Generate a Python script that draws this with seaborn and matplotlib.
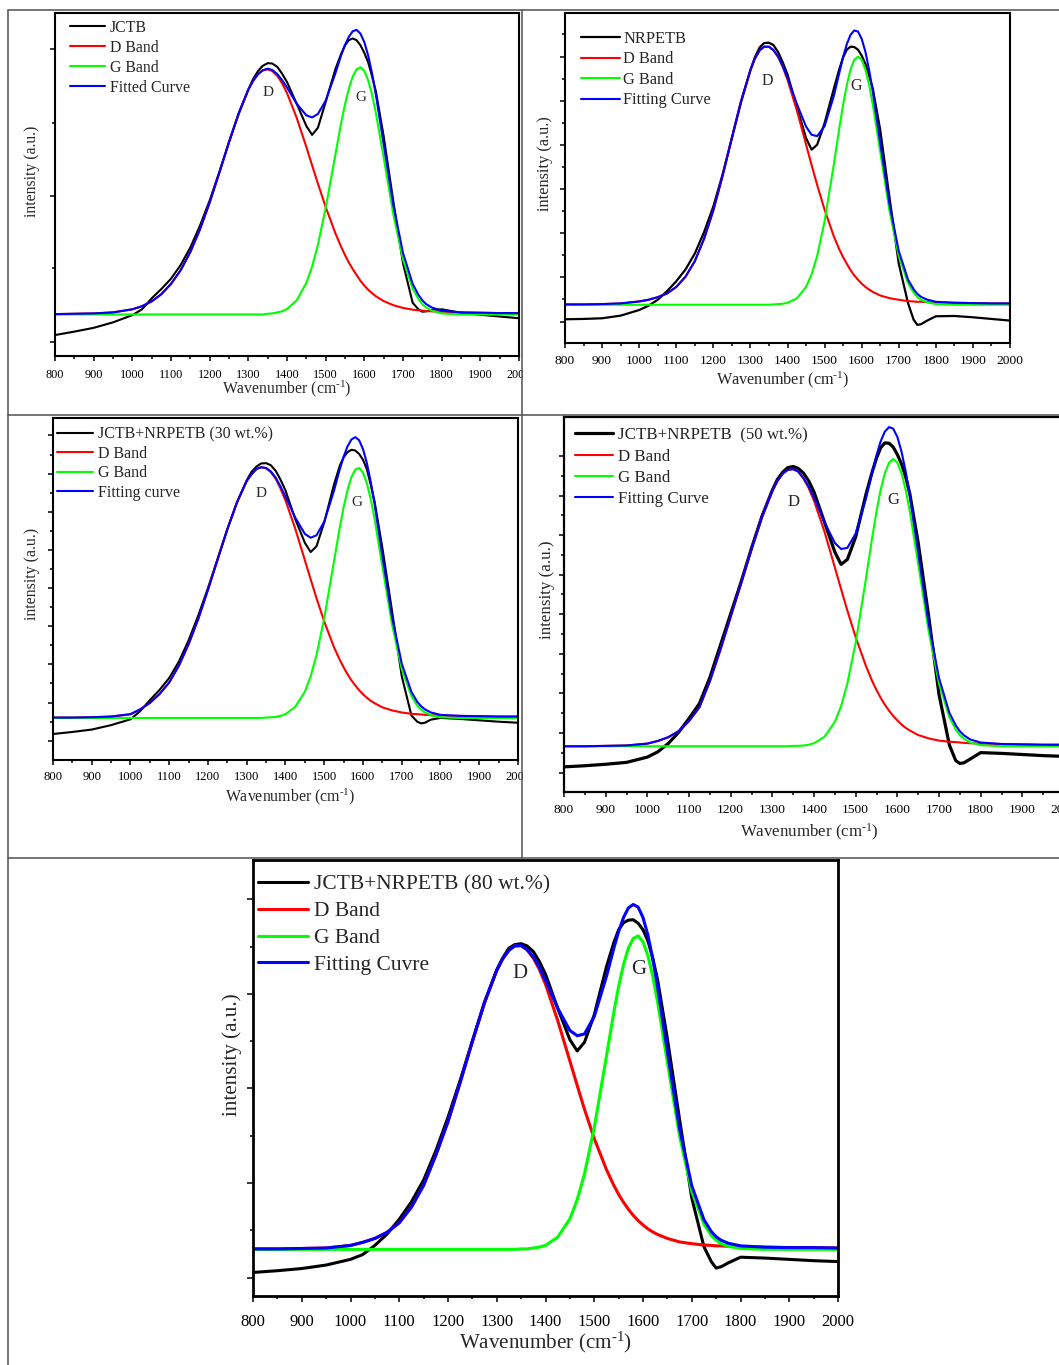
import numpy as np
import pandas as pd
import seaborn as sns
import matplotlib.pyplot as plt
from matplotlib.lines import Line2D
from matplotlib.patches import Rectangle
from matplotlib.ticker import MultipleLocator

# Raman shift grid shared by all curves (cm-1)
WN = [800, 850, 900, 950, 1000, 1025, 1050, 1075, 1100, 1125, 1150, 1175,
      1200, 1225, 1250, 1275, 1300, 1312, 1325, 1337, 1350, 1362, 1375, 1387,
      1400, 1425, 1450, 1465, 1480, 1500, 1525, 1540, 1550, 1560, 1570, 1580,
      1590, 1600, 1610, 1620, 1630, 1650, 1675, 1700, 1725, 1740, 1750, 1760,
      1775, 1800, 1850, 1900, 1950, 2000]

# intensities, in % of each panel's axis height
JCTB_RAW = [6.1, 7.1, 8.2, 9.8, 11.9, 13.6, 16.8, 19.5, 22.5, 26.5, 31.6, 38.0,
            45.3, 53.6, 62.3, 70.5, 77.6, 80.6, 83.0, 84.5, 85.3, 85.2, 84.2, 82.3,
            79.8, 73.5, 67.0, 64.4, 66.5, 74.0, 83.5, 88.0, 90.5, 92.0, 92.5, 92.0,
            90.5, 88.3, 85.5, 81.5, 77.0, 64.0, 45.0, 27.0, 15.5, 13.6, 12.9, 13.0,
            13.4, 13.6, 12.6, 12.0, 11.5, 11.0]
JCTB_D = [12.2, 12.3, 12.4, 12.7, 13.6, 14.5, 15.9, 18.0, 21.0, 25.0, 30.3, 36.9,
          44.7, 53.4, 62.3, 70.7, 77.6, 80.1, 82.1, 83.2, 83.5, 83.0, 81.6, 79.5,
          76.6, 69.4, 60.9, 55.5, 50.2, 43.4, 35.8, 31.8, 29.4, 27.2, 25.3, 23.6,
          21.9, 20.5, 19.3, 18.3, 17.4, 16.0, 14.8, 14.0, 13.5, 13.3, 13.2, 13.1,
          13.0, 12.9, 12.7, 12.6, 12.5, 12.5]
JCTB_G = [12.1, 12.1, 12.1, 12.1, 12.1, 12.1, 12.1, 12.1, 12.1, 12.1, 12.1, 12.1,
          12.1, 12.1, 12.1, 12.1, 12.1, 12.1, 12.1, 12.1, 12.3, 12.4, 12.7, 13.0,
          13.7, 16.2, 21.3, 26.1, 32.4, 43.1, 58.6, 67.9, 73.3, 77.9, 81.4, 83.5,
          84.1, 83.0, 80.3, 76.1, 70.7, 57.8, 41.3, 28.1, 19.6, 16.6, 15.1, 14.1,
          13.2, 12.4, 12.1, 12.1, 12.1, 12.1]
JCTB_FIT = [12.2, 12.3, 12.4, 12.7, 13.6, 14.5, 15.9, 18.0, 21.0, 25.0, 30.3, 36.9,
            44.7, 53.4, 62.3, 70.7, 77.6, 80.1, 82.1, 83.2, 83.7, 83.3, 82.1, 80.4,
            78.2, 73.5, 70.1, 69.5, 70.5, 74.4, 82.3, 87.6, 90.6, 93.0, 94.6, 95.0,
            93.9, 91.4, 87.5, 82.3, 76.0, 61.7, 44.0, 30.0, 21.0, 17.8, 16.2, 15.1,
            14.1, 13.2, 12.7, 12.6, 12.5, 12.5]

NRPETB_RAW = [7.1, 7.2, 7.4, 8.2, 9.9, 11.2, 13.0, 15.6, 18.6, 22.2, 27.0, 33.5,
              41.3, 51.0, 62.0, 73.0, 82.6, 86.5, 89.5, 90.8, 90.9, 90.2, 88.0, 85.0,
              81.3, 71.5, 62.0, 58.5, 60.0, 66.5, 77.0, 83.0, 86.5, 88.8, 89.7, 89.6,
              88.8, 87.0, 84.5, 81.0, 77.0, 64.5, 44.0, 24.0, 12.0, 7.0, 5.4, 5.6,
              6.6, 8.0, 8.1, 7.7, 7.2, 6.7]
NRPETB_D = [11.6, 11.6, 11.7, 11.9, 12.5, 13.0, 13.8, 14.9, 16.9, 20.0, 24.7, 31.5,
            40.1, 50.6, 62.1, 73.3, 82.6, 86.1, 88.6, 89.7, 89.7, 88.6, 86.5, 83.6,
            79.7, 70.5, 60.1, 53.8, 47.8, 40.3, 32.2, 28.2, 25.9, 23.9, 22.0, 20.4,
            19.1, 17.9, 16.9, 16.1, 15.4, 14.3, 13.5, 13.0, 12.6, 12.5, 12.4, 12.4,
            12.3, 12.2, 12.1, 12.0, 11.9, 11.9]
NRPETB_G = [11.5, 11.5, 11.5, 11.5, 11.5, 11.5, 11.5, 11.5, 11.5, 11.5, 11.5, 11.5,
            11.5, 11.5, 11.5, 11.5, 11.5, 11.5, 11.5, 11.5, 11.5, 11.6, 11.7, 11.8,
            12.1, 13.4, 16.9, 20.7, 26.3, 36.8, 54.1, 65.2, 72.2, 78.1, 82.8, 85.7,
            86.7, 85.7, 82.8, 78.1, 72.2, 57.9, 40.0, 26.3, 18.0, 15.2, 13.9, 13.0,
            12.3, 11.7, 11.5, 11.5, 11.5, 11.5]
NRPETB_FIT = [11.6, 11.6, 11.7, 11.9, 12.5, 13.0, 13.8, 14.9, 16.9, 20.0, 24.7, 31.5,
              40.1, 50.6, 62.1, 73.3, 82.6, 86.1, 88.6, 89.7, 89.7, 88.7, 86.7, 83.9,
              80.3, 72.4, 65.5, 63.0, 62.6, 65.6, 74.8, 81.9, 86.6, 90.5, 93.3, 94.6,
              94.3, 92.1, 88.2, 82.7, 76.1, 60.7, 42.0, 27.8, 19.1, 16.2, 14.8, 13.9,
              13.1, 12.4, 12.1, 12.0, 11.9, 11.9]

MIX30_RAW = [7.6, 8.2, 8.9, 10.2, 11.9, 14.3, 17.5, 20.5, 24.0, 28.8, 35.0, 42.3,
             50.3, 58.9, 67.5, 75.4, 81.8, 84.2, 85.8, 86.7, 86.8, 86.2, 84.5, 82.0,
             78.8, 70.5, 63.5, 60.8, 62.5, 69.5, 80.5, 86.0, 88.5, 90.0, 90.7, 90.5,
             89.5, 87.8, 85.0, 80.5, 75.5, 62.0, 43.5, 24.5, 13.0, 11.2, 10.7, 10.9,
             11.8, 12.3, 12.0, 11.6, 11.2, 10.9]
MIX30_D = [12.4, 12.4, 12.5, 12.7, 13.4, 14.8, 16.7, 19.3, 22.7, 27.6, 33.9, 41.3,
           49.8, 58.7, 67.5, 75.4, 81.6, 83.5, 85.1, 85.6, 85.3, 84.2, 82.2, 79.4,
           75.9, 67.7, 58.4, 52.8, 47.3, 40.5, 33.0, 29.3, 27.1, 25.1, 23.3, 21.8,
           20.4, 19.2, 18.2, 17.3, 16.6, 15.4, 14.5, 13.9, 13.5, 13.4, 13.3, 13.2,
           13.1, 13.0, 12.9, 12.8, 12.7, 12.7]
MIX30_G = [12.3, 12.3, 12.3, 12.3, 12.3, 12.3, 12.3, 12.3, 12.3, 12.3, 12.3, 12.3,
           12.3, 12.3, 12.3, 12.3, 12.3, 12.3, 12.3, 12.3, 12.4, 12.5, 12.6, 12.9,
           13.4, 15.5, 20.0, 24.5, 30.7, 41.5, 58.0, 68.0, 73.9, 78.9, 82.7, 84.9,
           85.4, 84.0, 80.9, 76.3, 70.4, 56.6, 39.6, 26.6, 18.7, 15.9, 14.7, 13.9,
           13.1, 12.5, 12.3, 12.3, 12.3, 12.3]
MIX30_FIT = [12.4, 12.4, 12.5, 12.7, 13.4, 14.8, 16.7, 19.3, 22.7, 27.6, 33.9, 41.3,
             49.8, 58.7, 67.5, 75.4, 81.6, 83.5, 85.1, 85.6, 85.4, 84.4, 82.5, 80.0,
             77.0, 70.9, 66.1, 65.0, 65.7, 69.7, 78.7, 85.0, 88.7, 91.7, 93.7, 94.4,
             93.5, 90.9, 86.8, 81.3, 74.7, 59.7, 41.8, 28.2, 19.9, 17.0, 15.7, 14.8,
             13.9, 13.2, 12.9, 12.8, 12.7, 12.7]

MIX50_RAW = [6.7, 7.0, 7.4, 7.9, 9.3, 10.7, 12.9, 15.9, 19.6, 23.6, 30.5, 39.0,
             47.5, 56.0, 65.0, 73.5, 80.5, 83.3, 85.3, 86.5, 86.8, 86.3, 85.0, 83.0,
             80.0, 72.0, 64.0, 60.7, 62.0, 68.0, 79.5, 85.5, 89.0, 91.8, 93.1, 93.0,
             92.0, 90.0, 87.5, 84.0, 79.5, 66.5, 47.0, 26.0, 12.5, 8.4, 7.6, 7.8,
             8.8, 10.5, 10.3, 10.0, 9.7, 9.5]
MIX50_D = [12.2, 12.2, 12.3, 12.4, 12.9, 13.6, 14.6, 16.2, 18.9, 22.6, 29.5, 37.8,
           46.7, 55.7, 64.9, 73.5, 80.4, 82.9, 84.9, 85.9, 86.1, 85.4, 83.5, 81.1,
           77.7, 69.5, 59.9, 54.1, 48.4, 41.3, 33.5, 29.5, 27.2, 25.1, 23.3, 21.7,
           20.3, 19.1, 18.0, 17.1, 16.4, 15.2, 14.3, 13.7, 13.4, 13.3, 13.2, 13.1,
           13.0, 12.9, 12.8, 12.7, 12.6, 12.6]
MIX50_G = [12.2, 12.2, 12.2, 12.2, 12.2, 12.2, 12.2, 12.2, 12.2, 12.2, 12.2, 12.2,
           12.2, 12.2, 12.2, 12.2, 12.2, 12.2, 12.2, 12.2, 12.3, 12.3, 12.4, 12.6,
           13.0, 14.7, 18.7, 22.9, 28.9, 39.8, 57.1, 68.1, 74.8, 80.6, 85.0, 87.8,
           88.8, 87.8, 85.0, 80.6, 74.8, 60.9, 43.0, 28.9, 19.9, 16.7, 15.2, 14.2,
           13.2, 12.5, 12.2, 12.2, 12.2, 12.2]
MIX50_FIT = [12.2, 12.2, 12.3, 12.4, 12.9, 13.6, 14.6, 16.2, 18.9, 22.6, 29.5, 37.8,
             46.7, 55.7, 64.9, 73.5, 80.4, 82.9, 84.9, 85.9, 86.1, 85.5, 83.7, 81.5,
             78.5, 72.0, 66.4, 64.8, 65.1, 68.9, 78.4, 85.4, 89.8, 93.5, 96.1, 97.3,
             96.9, 94.7, 90.8, 85.5, 79.0, 63.9, 45.1, 30.4, 21.1, 17.8, 16.2, 15.1,
             14.0, 13.2, 12.8, 12.7, 12.6, 12.6]

MIX80_RAW = [5.4, 5.8, 6.3, 7.1, 8.4, 9.5, 11.6, 14.2, 17.6, 21.6, 26.6, 33.3,
             41.0, 49.5, 58.5, 67.3, 74.8, 77.5, 79.8, 80.6, 80.8, 80.3, 79.0, 76.8,
             73.8, 66.0, 58.8, 56.2, 58.2, 64.5, 75.5, 81.0, 84.0, 85.6, 86.2, 86.3,
             85.5, 84.0, 81.5, 77.5, 72.5, 59.0, 40.5, 22.5, 11.3, 7.9, 6.4, 6.7,
             7.6, 8.9, 8.7, 8.4, 8.1, 7.9]
MIX80_D = [10.8, 10.8, 10.9, 11.0, 11.6, 12.3, 13.2, 14.6, 16.8, 20.4, 25.4, 32.3,
           40.0, 49.0, 58.4, 67.4, 74.7, 77.3, 79.3, 80.3, 80.3, 79.4, 77.5, 75.0,
           71.5, 63.2, 53.9, 48.3, 42.8, 36.1, 29.0, 25.4, 23.3, 21.5, 19.9, 18.5,
           17.3, 16.3, 15.4, 14.7, 14.1, 13.2, 12.4, 12.0, 11.7, 11.6, 11.5, 11.5,
           11.4, 11.3, 11.2, 11.1, 11.1, 11.0]
MIX80_G = [10.7, 10.7, 10.7, 10.7, 10.7, 10.7, 10.7, 10.7, 10.7, 10.7, 10.7, 10.7,
           10.7, 10.7, 10.7, 10.7, 10.7, 10.7, 10.7, 10.7, 10.8, 10.8, 11.0, 11.2,
           11.6, 13.5, 17.7, 22.1, 28.0, 38.6, 55.0, 65.0, 71.0, 76.0, 79.8, 82.0,
           82.6, 81.2, 78.1, 73.3, 67.4, 53.6, 36.7, 24.0, 16.5, 13.9, 12.8, 12.0,
           11.4, 10.9, 10.7, 10.7, 10.7, 10.7]
MIX80_FIT = [10.8, 10.8, 10.9, 11.0, 11.6, 12.3, 13.2, 14.6, 16.8, 20.4, 25.4, 32.3,
             40.0, 49.0, 58.4, 67.4, 74.7, 77.3, 79.3, 80.3, 80.4, 79.5, 77.8, 75.5,
             72.4, 66.0, 60.9, 59.7, 60.1, 64.1, 73.3, 79.7, 83.6, 86.8, 89.0, 89.8,
             89.2, 86.8, 82.8, 77.3, 70.8, 56.1, 38.4, 25.3, 17.5, 14.8, 13.6, 12.8,
             12.1, 11.5, 11.2, 11.1, 11.1, 11.0]

sns.set_style("ticks")
plt.rcParams["font.family"] = ["Liberation Serif", "DejaVu Serif"]
plt.rcParams["mathtext.fontset"] = "custom"
plt.rcParams["mathtext.rm"] = "Liberation Serif"
plt.rcParams["mathtext.it"] = "Liberation Serif:italic"

FIG_W, FIG_H = 1059, 1365
fig = plt.figure(figsize=(FIG_W / 100, FIG_H / 100), dpi=100)


def add_box(left, top, right, bottom):
    # axes placed by pixel box (left, top, right, bottom)
    return fig.add_axes([left / FIG_W, 1 - bottom / FIG_H,
                         (right - left) / FIG_W, (bottom - top) / FIG_H])


panels = [
    dict(box=(55, 12.7, 519, 356), data=(JCTB_RAW, JCTB_D, JCTB_G, JCTB_FIT),
         names=["JCTB", "D Band", "G Band", "Fitted Curve"],
         ymaj=[4.2, 46.75, 89.3], ymin=[25.5, 68.0],
         tick_fs=8.8, lab_fs=11.3, leg_fs=11.4, ann_fs=11, lw=1.5, raw_lw=1.5,
         spine=1.5, pad=6.2, tl=(3.4, 2.0),
         ylab=(-0.05, 0.537), xlab=(0.5, -0.096),
         leg=(0.032, 0.979), hl=2.2, htp=0.32, ls=0.25,
         dpos=(1350, 76.7), gpos=(1590, 75.2)),
    dict(box=(565, 12.7, 1010, 342.7), data=(NRPETB_RAW, NRPETB_D, NRPETB_G, NRPETB_FIT),
         names=["NRPETB", "D Band", "G Band", "Fitting Curve"],
         ymaj=[6.4, 19.8, 33.2, 46.5, 59.9, 73.3, 86.7],
         ymin=[13.1, 26.5, 39.9, 53.2, 66.6, 80.0, 93.4],
         tick_fs=9.7, lab_fs=11.7, leg_fs=11.8, ann_fs=11.5, lw=1.5, raw_lw=1.6,
         spine=1.5, pad=5.2, tl=(3.4, 2.0),
         ylab=(-0.045, 0.5415), xlab=(0.49, -0.113),
         leg=(0.0355, 0.945), hl=2.38, htp=0.2, ls=0.275,
         dpos=(1345, 79.3), gpos=(1586, 77.8)),
    dict(box=(53, 418, 518, 760), data=(MIX30_RAW, MIX30_D, MIX30_G, MIX30_FIT),
         names=["JCTB+NRPETB (30 wt.%)", "D Band", "G Band", "Fitting curve"],
         ymaj=[5.6, 16.8, 28.0, 39.1, 50.3, 61.4, 72.6, 83.7, 94.9],
         ymin=[11.2, 22.4, 33.5, 44.7, 55.9, 67.0, 78.2, 89.3],
         tick_fs=9.1, lab_fs=11.4, leg_fs=11.5, ann_fs=11, lw=1.5, raw_lw=1.5,
         spine=1.5, pad=4.7, tl=(3.4, 2.0),
         ylab=(-0.045, 0.544), xlab=(0.51, -0.107),
         leg=(0.008, 0.976), hl=2.25, htp=0.32, ls=0.22,
         dpos=(1338, 77.8), gpos=(1585, 75.4)),
    dict(box=(564, 417, 1064, 792), data=(MIX50_RAW, MIX50_D, MIX50_G, MIX50_FIT),
         names=["JCTB+NRPETB  (50 wt.%)", "D Band", "G Band", "Fitting Curve"],
         ymaj=[5.2, 15.8, 26.3, 36.9, 47.4, 58.0, 68.5, 79.0, 89.6],
         ymin=[10.5, 21.0, 31.6, 42.1, 52.7, 63.2, 73.8, 84.3],
         tick_fs=9.7, lab_fs=12.2, leg_fs=12.2, ann_fs=12, lw=1.5, raw_lw=2.3,
         spine=1.6, pad=5.2, tl=(3.4, 2.0),
         ylab=(-0.034, 0.539), xlab=(0.49, -0.1085),
         leg=(0.021, 0.9725), hl=2.3, htp=0.24, ls=0.31,
         dpos=(1352, 77.2), gpos=(1590, 77.9)),
    dict(box=(253, 860, 838, 1296), data=(MIX80_RAW, MIX80_D, MIX80_G, MIX80_FIT),
         names=["JCTB+NRPETB (80 wt.%)", "D Band", "G Band", "Fitting Cuvre"],
         ymaj=[4.2, 25.9, 47.6, 69.3, 91.0], ymin=[15.05, 36.75, 58.45, 80.15],
         tick_fs=12, lab_fs=15.2, leg_fs=15.5, ann_fs=15, lw=2.2, raw_lw=2.2,
         spine=2.0, pad=8.9, tl=(4.2, 2.5),
         ylab=(-0.036, 0.553), xlab=(0.5, -0.1055),
         leg=(0.0085, 0.9665), hl=2.32, htp=0.28, ls=0.31,
         dpos=(1348, 73.9), gpos=(1592, 74.9)),
]

colors = ["black", "#ff0000", "#00ff00", "#0000ff"]

for p in panels:
    ax = add_box(*p["box"])
    raw, d, g, fit = p["data"]
    df = pd.DataFrame({"wn": WN, "raw": raw, "d": d, "g": g, "fit": fit})
    widths = [p["raw_lw"], p["lw"], p["lw"], p["lw"]]
    for col, name, c, w in zip(["raw", "d", "g", "fit"], p["names"], colors, widths):
        sns.lineplot(data=df, x="wn", y=col, ax=ax, color=c, linewidth=w, label=name)

    ax.set_xlim(800, 2000)
    ax.set_ylim(0, 100)
    ax.xaxis.set_major_locator(MultipleLocator(100))
    ax.xaxis.set_minor_locator(MultipleLocator(50))
    ax.set_yticks(p["ymaj"])
    ax.set_yticks(p["ymin"], minor=True)
    ax.set_yticklabels([])
    ax.tick_params(which="both", direction="out", width=1.1, colors="black",
                   top=False, right=False)
    ax.tick_params(which="major", length=p["tl"][0], pad=p["pad"], labelsize=p["tick_fs"])
    ax.tick_params(which="minor", length=p["tl"][1])
    for s in ax.spines.values():
        s.set_linewidth(p["spine"])
        s.set_color("black")

    ax.set_xlabel(r"Wavenumber (cm$^{\text{-}1}$)", fontsize=p["lab_fs"], va="center")
    ax.xaxis.set_label_coords(*p["xlab"])
    ax.set_ylabel("intensity (a.u.)", fontsize=p["lab_fs"], va="center")
    ax.yaxis.set_label_coords(*p["ylab"])

    ax.legend(loc="upper left", bbox_to_anchor=p["leg"], frameon=False,
              borderpad=0, borderaxespad=0, handlelength=p["hl"],
              handletextpad=p["htp"], labelspacing=p["ls"], fontsize=p["leg_fs"])
    ax.text(p["dpos"][0], p["dpos"][1], "D", ha="center", va="center", fontsize=p["ann_fs"])
    ax.text(p["gpos"][0], p["gpos"][1], "G", ha="center", va="center", fontsize=p["ann_fs"])

# the right-most tick labels of the left column get cut at the cell border
for y0, y1 in [(360, 390), (764, 792)]:
    fig.add_artist(Rectangle((523 / FIG_W, 1 - y1 / FIG_H), 22 / FIG_W, (y1 - y0) / FIG_H,
                             transform=fig.transFigure, facecolor="white",
                             edgecolor="none", zorder=9))

# table grid around the panels
grid = [((8, 10), (1059, 10)), ((8, 10), (8, 1365)), ((522, 10), (522, 858)),
        ((8, 415), (1059, 415)), ((8, 858), (1059, 858))]
for (x0, y0), (x1, y1) in grid:
    fig.add_artist(Line2D([x0 / FIG_W, x1 / FIG_W], [1 - y0 / FIG_H, 1 - y1 / FIG_H],
                          transform=fig.transFigure, color="#505050", lw=1.1, zorder=10))

fig.savefig("out.png", dpi=100)
